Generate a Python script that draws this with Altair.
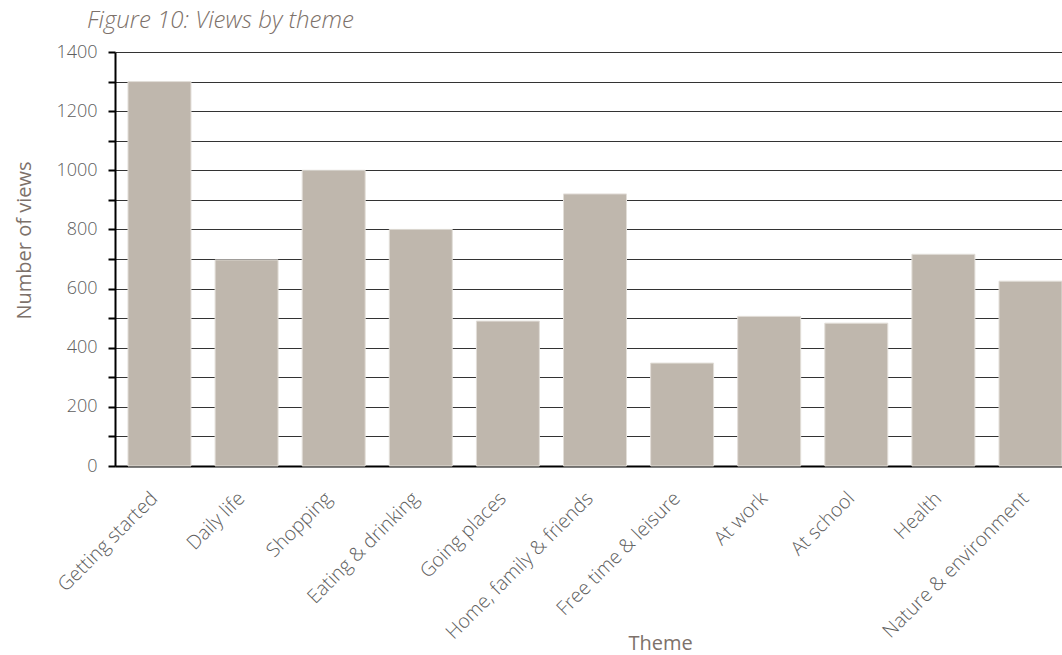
import altair as alt
import pandas as pd

themes = ["Getting started", "Daily life", "Shopping", "Eating & drinking",
          "Going places", "Home, family & friends", "Free time & leisure",
          "At work", "At school", "Health", "Nature & environment"]
views = [1300, 697, 1000, 800, 490, 920, 348, 506, 483, 716, 625]
y_ticks = list(range(0, 1500, 100))

df = pd.DataFrame({"Theme": themes, "Views": views})

FONT = "Open Sans"
TXT = "#7d716a"
LBL = "#5e5e5e"

chart = alt.Chart(df).mark_bar(
    color="#bfb7ad", stroke="#e2ded8", strokeWidth=1
).encode(
    x=alt.X("Theme:N", sort=themes,
            scale=alt.Scale(paddingInner=0.277, paddingOuter=0.0746, align=1),
            axis=alt.Axis(title="Theme", labelAngle=-45, labelAlign="right",
                          labelBaseline="middle", labelFontSize=19.5, labelColor=LBL,
                          labelFont=FONT, labelFontWeight=300, labelPadding=29,
                          labelOffset=-5,
                          labelLimit=0, labelOverlap=False,
                          ticks=False, domainColor="#000000", domainWidth=2,
                          titleFont=FONT, titleFontSize=20, titleColor=TXT,
                          titleFontWeight="normal",
                          titleX=545, titleY=177, titleBaseline="middle",
                          titleAlign="center")),
    y=alt.Y("Views:Q", scale=alt.Scale(domain=[0, 1400], nice=False),
            axis=alt.Axis(title="Number of views", values=y_ticks, format="d",
                          labelExpr="datum.value % 200 == 0 ? datum.label : ''",
                          labelFontSize=18, labelColor=LBL, labelFont=FONT,
                          labelFontWeight=300,
                          labelPadding=11, tickSize=7, tickColor="#000000",
                          tickWidth=2, domainColor="#000000", domainWidth=2,
                          grid=True, gridColor="#333333", gridWidth=1,
                          titleFont=FONT, titleFontSize=20, titleColor=TXT,
                          titleFontWeight="normal", titleAngle=-90,
                          titleX=-91, titleY=188, titleAlign="center",
                          titleBaseline="middle")),
).properties(
    width=947, height=414,
    padding={"left": 115, "top": 52, "right": 0, "bottom": 189},
    autosize=alt.AutoSizeParams(type="none"),
    title=alt.TitleParams("Figure 10: Views by theme", anchor="start",
                          frame="group",
                          font=FONT, fontSize=24, fontStyle="italic",
                          fontWeight=300, color=TXT, offset=10, dx=-28),
).configure_view(stroke=None)

chart.save("out.html", embed_options={"renderer": "svg", "actions": False})
